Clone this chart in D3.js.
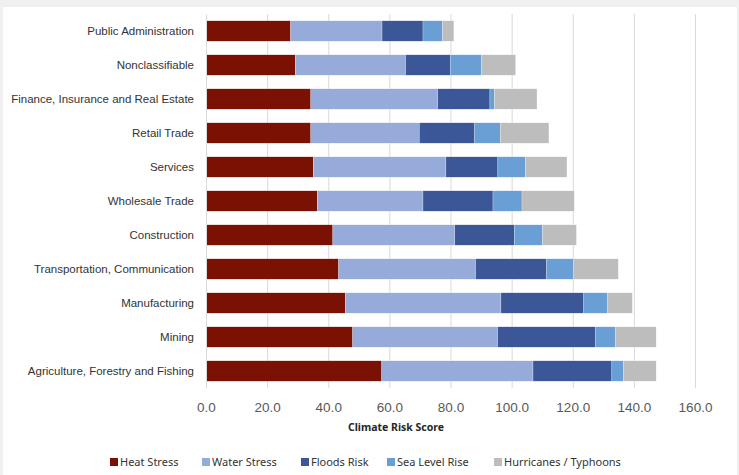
<!DOCTYPE html>
<html>
<head>
<meta charset="utf-8">
<script src="https://cdn.jsdelivr.net/npm/d3@7"></script>
<style>
  body { margin: 0; background: #f0f0f0; }
  svg { display: block; font-family: "Noto Sans", "Open Sans", sans-serif; }
  .grid line { stroke: #d9d9d9; stroke-width: 1; }
  .grid .domain { display: none; }
  .x.axis .domain, .x.axis line { display: none; }
  .x.axis text { fill: #595959; font-size: 13.5px; }
  .y.axis .domain { stroke: #d9d9d9; }
  .y.axis line { display: none; }
  .y.axis text { fill: #333333; font-size: 11.5px; }
  .legend text { fill: #333333; font-size: 11px; }
</style>
</head>
<body>
<div id="chart"></div>
<script>
const categories = [
  "Public Administration",
  "Nonclassifiable",
  "Finance, Insurance and Real Estate",
  "Retail Trade",
  "Services",
  "Wholesale Trade",
  "Construction",
  "Transportation, Communication",
  "Manufacturing",
  "Mining",
  "Agriculture, Forestry and Fishing",
]
const seriesNames = ["Heat Stress", "Water Stress", "Floods Risk", "Sea Level Rise", "Hurricanes / Typhoons"]
const heatStress = [27.7, 29.2, 34.3, 34.3, 35.1, 36.4, 41.5, 43.4, 45.6, 48.0, 57.5]
const waterStress = [29.9, 36.1, 41.5, 35.5, 43.4, 34.6, 39.9, 44.8, 50.9, 47.4, 49.5]
const floodsRisk = [13.4, 14.6, 17.1, 18.1, 17.0, 22.9, 19.5, 23.2, 27.1, 32.1, 25.8]
const seaLevelRise = [6.4, 10.2, 1.5, 8.4, 9.0, 9.5, 9.2, 8.8, 7.8, 6.5, 3.8]
const hurricanes = [3.7, 11.2, 13.9, 15.9, 13.6, 17.1, 11.1, 14.7, 8.1, 13.3, 10.7]
const xTicks = [0, 20, 40, 60, 80, 100, 120, 140, 160]
const colors = ["#7b1102", "#97abdb", "#3c5797", "#6a9fd5", "#bdbdbd"]

const seriesValues = [heatStress, waterStress, floodsRisk, seaLevelRise, hurricanes]
const table = categories.map((c, i) => {
  const row = { category: c }
  seriesNames.forEach((s, j) => (row[s] = seriesValues[j][i]))
  return row
})

const width = 739
const height = 475
const margin = { top: 14, right: 44, bottom: 87, left: 206 }
const plot = {
  width: width - margin.left - margin.right,
  height: height - margin.top - margin.bottom,
}

const xScale = d3.scaleLinear().domain([0, 160]).range([0, plot.width])
const yScale = d3
  .scaleBand()
  .domain(categories)
  .range([0, plot.height])
  .paddingInner(0.4)
  .paddingOuter(0.2)

const stacked = d3.stack().keys(seriesNames)(table)

const root = d3
  .select("#chart")
  .append("svg")
  .attr("width", width)
  .attr("height", height)

root
  .append("rect")
  .attr("x", 3)
  .attr("y", 7)
  .attr("width", 734)
  .attr("height", height - 7)
  .attr("fill", "#ffffff")

const svg = root
  .append("g")
  .attr("transform", "translate(" + margin.left + "," + margin.top + ")")

svg
  .append("g")
  .attr("class", "grid")
  .call(
    d3
      .axisBottom(xScale)
      .tickValues(xTicks.slice(1))
      .tickSize(plot.height)
      .tickFormat("")
  )

svg
  .append("g")
  .selectAll("g")
  .data(stacked)
  .enter()
  .append("g")
  .attr("fill", (d, i) => colors[i])
  .selectAll("rect")
  .data(d => d)
  .enter()
  .append("rect")
  .attr("x", d => xScale(d[0]))
  .attr("y", d => yScale(d.data.category))
  .attr("width", d => xScale(d[1]) - xScale(d[0]))
  .attr("height", yScale.bandwidth())
  .attr("stroke", "#ffffff")
  .attr("stroke-width", 0.4)
  .attr("stroke-opacity", 0.6)

svg
  .append("g")
  .attr("class", "y axis")
  .call(d3.axisLeft(yScale).tickSize(0).tickPadding(12))

svg
  .append("g")
  .attr("class", "x axis")
  .attr("transform", "translate(0," + plot.height + ")")
  .call(
    d3
      .axisBottom(xScale)
      .tickValues(xTicks)
      .tickSize(0)
      .tickPadding(14)
      .tickFormat(d => d.toFixed(1))
  )

svg
  .append("text")
  .attr("x", 396 - margin.left)
  .attr("y", 431 - margin.top)
  .attr("text-anchor", "middle")
  .attr("font-size", "10.5px")
  .attr("font-weight", "bold")
  .attr("fill", "#262626")
  .text("Climate Risk Score")

const legendX = [110, 202, 301, 387, 494]
const legend = root
  .append("g")
  .attr("class", "legend")
  .selectAll("g")
  .data(seriesNames)
  .enter()
  .append("g")
  .attr("transform", (d, i) => "translate(" + legendX[i] + ",462)")
legend
  .append("rect")
  .attr("x", 0)
  .attr("y", -4)
  .attr("width", 8)
  .attr("height", 8)
  .attr("fill", (d, i) => colors[i])
legend
  .append("text")
  .attr("x", 10)
  .attr("dy", "0.35em")
  .text(d => d)
</script>
</body>
</html>
